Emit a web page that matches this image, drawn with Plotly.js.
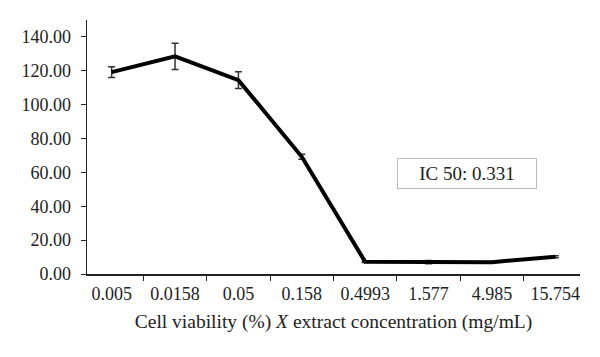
<!DOCTYPE html>
<html><head><meta charset="utf-8">
<script src="https://cdn.plot.ly/plotly-3.0.1.min.js"></script>
<style>body{margin:0;background:#fff}#c{width:600px;height:357px}</style>
</head><body><div id="c"></div>
<script>
var categories = ["0.005","0.0158","0.05","0.158","0.4993","1.577","4.985","15.754"];
var viability = [119.2, 128.5, 114.5, 69.2, 7.2, 7.0, 7.0, 10.2];
var errors = [3.2, 7.8, 5.0, 1.5, 0.4, 1.0, 0.4, 0.6];
var icLabel = "IC 50: 0.331";

var font = "Liberation Serif, Times New Roman, serif";
Plotly.newPlot("c", [{
  x: categories, y: viability, type: "scatter", mode: "lines",
  line: {color: "#000", width: 4},
  error_y: {type: "data", array: errors, visible: true, color: "#333", thickness: 1.5, width: 3.5}
}], {
  width: 600, height: 357,
  margin: {l: 87, r: 20, t: 20, b: 83},
  paper_bgcolor: "#fff", plot_bgcolor: "#fff",
  showlegend: false,
  font: {family: font, color: "#222", size: 18},
  xaxis: {
    type: "category", tickson: "boundaries", ticks: "outside", ticklen: 5, tickcolor: "#222",
    showline: true, linecolor: "#222", linewidth: 1.5, showgrid: false, zeroline: false,
    tickfont: {family: font, size: 18, color: "#222"}, ticklabelstandoff: 3,
    title: {text: "Cell viability (%) <i>X</i> extract concentration (mg/mL)", font: {family: font, size: 19.5, color: "#222"}, standoff: 11}
  },
  yaxis: {
    range: [0, 150], dtick: 20, tick0: 0, tickformat: ".2f", ticks: "outside", ticklen: 5, tickcolor: "#222",
    showline: true, linecolor: "#222", linewidth: 1.5, showgrid: false, zeroline: false,
    tickfont: {family: font, size: 18, color: "#222"}, ticklabelstandoff: 6
  },
  annotations: [{
    xref: "paper", yref: "paper", xanchor: "center", yanchor: "middle",
    x: (467 - 87) / 493, y: (274.5 - 174) / 254.5,
    text: icLabel, showarrow: false, font: {family: font, size: 19, color: "#222"},
    bordercolor: "#bbb", borderwidth: 1, borderpad: 0, bgcolor: "#fff",
    width: 138, height: 29
  }]
}, {displayModeBar: false, staticPlot: true});
</script></body></html>
